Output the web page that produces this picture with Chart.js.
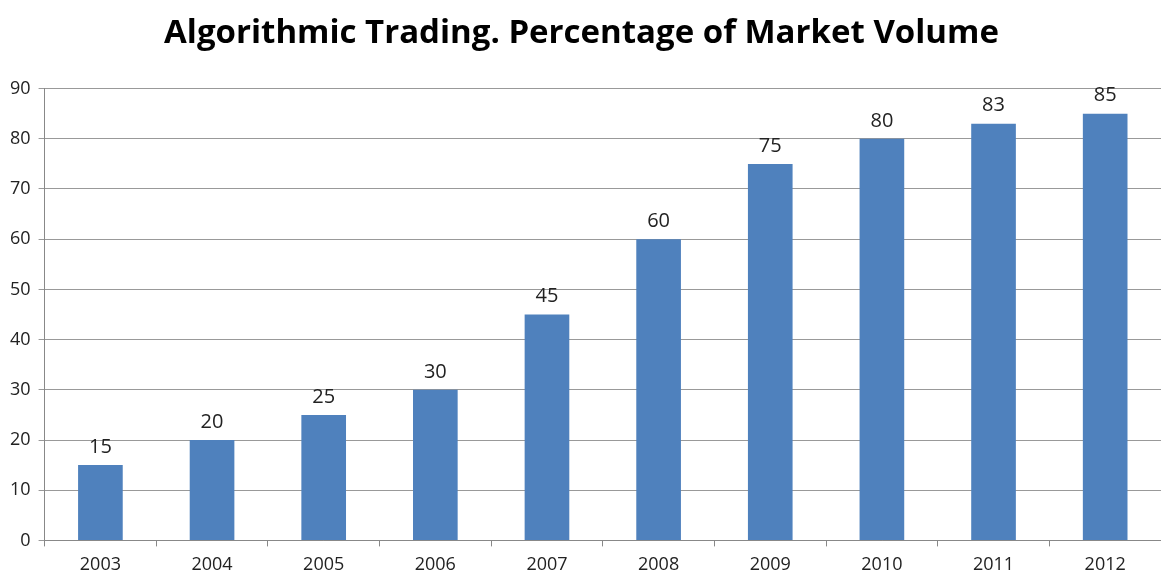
<!DOCTYPE html>
<html>
<head>
<meta charset="utf-8">
<script src="https://cdn.jsdelivr.net/npm/chart.js@4"></script>
<style>
  html, body { margin: 0; padding: 0; background: #fff; overflow: hidden; }
  #wrap { width: 1161px; height: 588px; }
</style>
</head>
<body>
<div id="wrap"><canvas id="myChart"></canvas></div>
<script>
const years = ['2003', '2004', '2005', '2006', '2007', '2008', '2009', '2010', '2011', '2012'];
const algoShare = [15, 20, 25, 30, 45, 60, 75, 80, 83, 85];

// draws the value above each bar
const valueLabels = {
    id: 'valueLabels',
    afterDatasetsDraw(chart) {
        const ctx = chart.ctx;
        const meta = chart.getDatasetMeta(0);
        ctx.save();
        ctx.font = '20px "Open Sans", sans-serif';
        ctx.fillStyle = '#222';
        ctx.textAlign = 'center';
        ctx.textBaseline = 'bottom';
        meta.data.forEach((bar, i) => {
            ctx.fillText(chart.data.datasets[0].data[i], bar.x, bar.y - 8);
        });
        ctx.restore();
    }
};

const ctx = document.getElementById('myChart');
new Chart(ctx, {
    type: 'bar',
    data: {
        labels: years,
        datasets: [{
            label: 'Algorithmic trading',
            backgroundColor: '#4f81bd',
            data: algoShare,
            barPercentage: 0.4,
            categoryPercentage: 1
        }]
    },
    options: {
        responsive: true,
        maintainAspectRatio: false,
        animation: false,
        layout: { padding: { left: 2, right: 0, top: 4, bottom: 4 } },
        plugins: {
            legend: { display: false },
            tooltip: { enabled: false },
            title: {
                display: true,
                text: 'Algorithmic Trading. Percentage of Market Volume',
                color: '#000',
                font: { family: '"Open Sans", sans-serif', size: 33, weight: 'bold' },
                padding: { top: 10, bottom: 35 }
            }
        },
        scales: {
            x: {
                grid: { display: true, drawOnChartArea: false, offset: true, color: '#888', tickLength: 6 },
                border: { color: '#888' },
                ticks: { color: '#222', font: { family: '"Open Sans", sans-serif', size: 18 }, padding: 8 }
            },
            y: {
                min: 0,
                max: 90,
                ticks: { stepSize: 10, color: '#222', font: { family: '"Open Sans", sans-serif', size: 18 }, padding: 8 },
                grid: { color: '#999', tickLength: 6 },
                border: { color: '#888' }
            }
        }
    },
    plugins: [valueLabels]
});
</script>
</body>
</html>
